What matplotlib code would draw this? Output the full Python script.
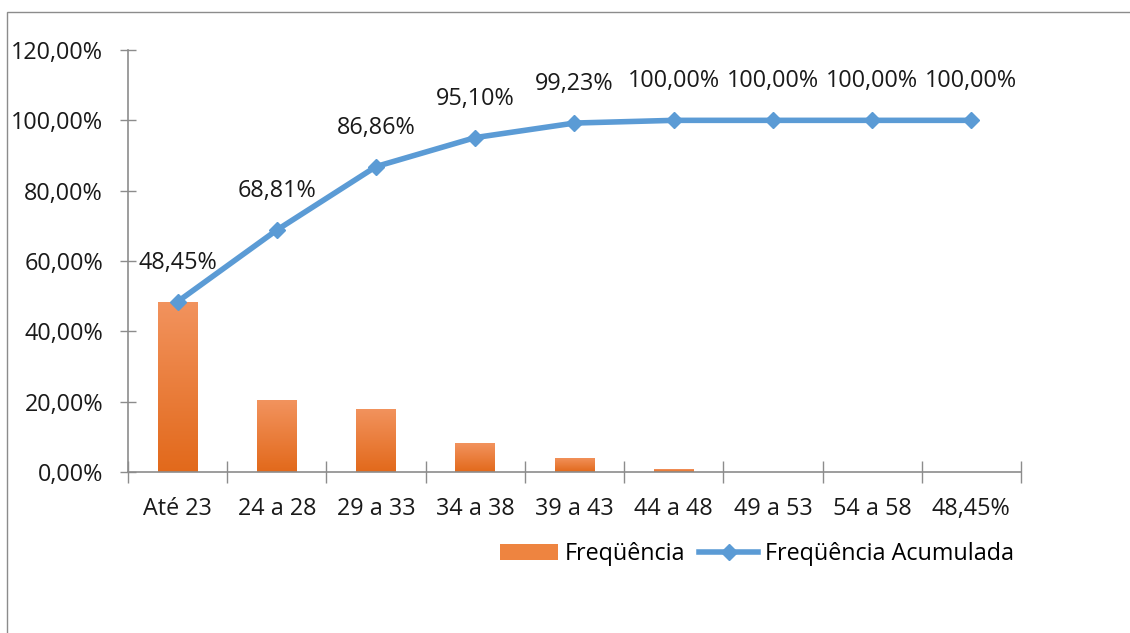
import matplotlib
matplotlib.use("Agg")
import matplotlib.pyplot as plt
from matplotlib.patches import Rectangle, Patch
import numpy as np

# dados
categorias = ["Até 23", "24 a 28", "29 a 33", "34 a 38", "39 a 43",
              "44 a 48", "49 a 53", "54 a 58", "48,45%"]
frequencia = [48.45, 20.36, 18.05, 8.24, 4.13, 0.77, 0.0, 0.0, 0.0]
acumulada = [48.45, 68.81, 86.86, 95.10, 99.23, 100.00, 100.00, 100.00, 100.00]
yticks = [0, 20, 40, 60, 80, 100, 120]


def pct(v):
    return "{:.2f}%".format(v).replace(".", ",")


plt.rcParams["font.family"] = ["Open Sans", "DejaVu Sans"]
FS = 16.8

fig = plt.figure(figsize=(11.3, 6.33), dpi=100)
ax = fig.add_axes([0.1133, 0.2543, 0.7902, 0.6667])

# moldura do grafico
fig.patches.append(Rectangle((7 / 1130, -0.1), 1.2, 1 - 12 / 633 + 0.1,
                             transform=fig.transFigure, fill=False,
                             edgecolor="#8c8c8c", linewidth=1.0))

x = np.arange(len(categorias))
barras = ax.bar(x, frequencia, width=0.4, color="none", zorder=2)

# gradiente nas barras
grad = np.linspace(0, 1, 256).reshape(-1, 1)
cmap = matplotlib.colors.LinearSegmentedColormap.from_list("g", ["#E2691B", "#F2935E"])
for b in barras:
    h = b.get_height()
    if h <= 0:
        continue
    im = ax.imshow(grad, cmap=cmap, aspect="auto", origin="lower",
                   extent=[b.get_x(), b.get_x() + b.get_width(), 0, h], zorder=2)
    im.set_clip_path(b)
    b.set_edgecolor("none")

linha, = ax.plot(x, acumulada, color="#5B9BD5", linewidth=4, marker="D", markersize=8,
                 label="Freqüência Acumulada", zorder=3)

for xi, v in zip(x, acumulada):
    ax.annotate(pct(v), xy=(xi, v), xytext=(0, 28), textcoords="offset points",
                ha="center", va="center", fontsize=FS, color="#1a1a1a")

ax.set_xlim(-0.5, len(categorias) - 0.5)
ax.set_ylim(0, 120)
ax.set_yticks(yticks)
ax.set_yticklabels([pct(v) for v in yticks], fontsize=FS, color="#1a1a1a")
ax.set_xticks(np.arange(len(categorias) + 1) - 0.5)
ax.set_xticklabels([])
ax.set_xticks(x, minor=True)
ax.set_xticklabels(categorias, minor=True, fontsize=FS, color="#1a1a1a")
ax.tick_params(axis="x", which="minor", length=0, pad=18)
ax.tick_params(axis="x", which="major", direction="inout", length=16, color="#8c8c8c", width=1)
ax.tick_params(axis="y", direction="inout", length=12, color="#8c8c8c", width=1, pad=12)

for s in ["top", "right"]:
    ax.spines[s].set_visible(False)
for s in ["left", "bottom"]:
    ax.spines[s].set_color("#8c8c8c")
    ax.spines[s].set_linewidth(1.2)

patch = Patch(facecolor="#EE8440", edgecolor="none", label="Freqüência")
ax.legend(handles=[patch, linha], loc="center", bbox_to_anchor=(0.704, -0.195), ncol=2,
          frameon=False, fontsize=FS, handlelength=2.5, handleheight=0.7,
          columnspacing=0.6, handletextpad=0.3)

fig.savefig("out.png", dpi=100)
